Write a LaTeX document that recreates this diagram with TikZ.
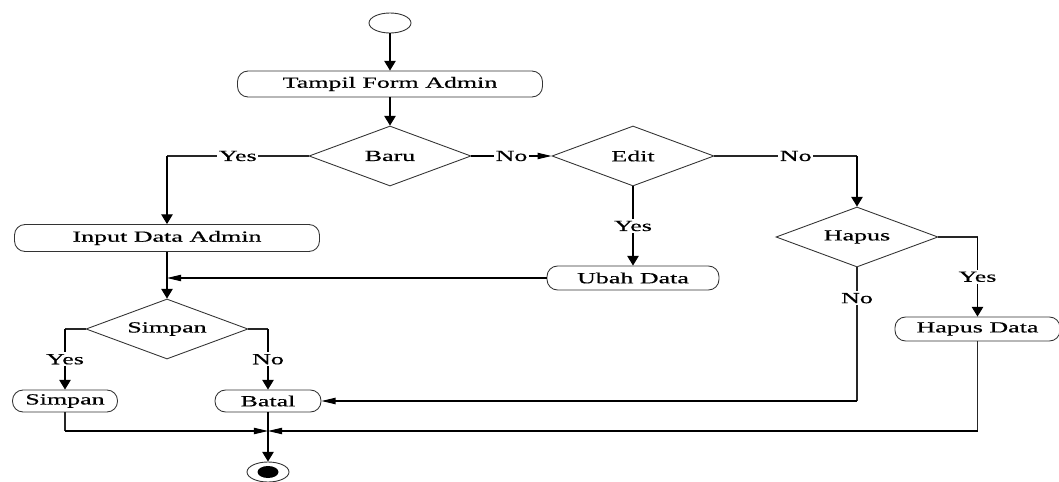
\documentclass[tikz,border=0pt]{standalone}
\usepackage{fontspec}
\setmainfont{Liberation Serif}[FakeStretch=1.68, FakeBold=0.4]
\usetikzlibrary{shapes.geometric,arrows.meta}

\tikzset{
  box/.style={draw=black!80, line width=0.5pt, rounded corners=6pt, minimum width=#1, minimum height=0.52cm, inner sep=0pt},
  decision/.style={draw=black!80, line width=0.5pt, diamond, aspect=2.7, minimum width=3.24cm, minimum height=1.2cm, inner sep=0pt},
  varr/.style={line width=0.6pt, -{Triangle[length=5.5pt,width=6.5pt]}},
  harr/.style={line width=0.6pt, -{Triangle[length=8pt,width=3.6pt]}},
  line/.style={line width=0.6pt, draw=black!85},
  lbl/.style={fill=white, inner sep=1pt}
}

\begin{document}
\begin{tikzpicture}[font=\fontsize{8.8}{10}\selectfont]
\useasboundingbox (0,0) rectangle (21.18,-9.64);

% Start and first activity
  \node[ellipse, draw=black!80, line width=0.5pt, minimum width=0.84cm, minimum height=0.4cm] (start) at (7.8,-0.46) {};
  \node[box=6.1cm] (tampil) at (7.8,-1.68) {Tampil Form Admin};

  % Decisions
  \node[decision] (baru) at (7.8,-3.12) {Baru};
  \node[decision] (edit) at (12.66,-3.12) {Edit};
  \node[decision] (hapus) at (17.14,-4.74) {Hapus};
  \node[decision] (simpan) at (3.34,-6.58) {Simpan};

  % Activities
  \node[box=6.1cm, minimum height=0.54cm] (input) at (3.34,-4.76) {Input Data Admin};
  \node[box=3.44cm, minimum height=0.48cm] (ubah) at (12.66,-5.56) {Ubah Data};
  \node[box=3.3cm, minimum height=0.48cm] (hapusdata) at (19.55,-6.58) {Hapus Data};
  \node[box=2.1cm, minimum height=0.44cm] (simpanbox) at (1.3,-8.02) {Simpan};
  \node[box=2.12cm, minimum height=0.44cm] (batal) at (5.36,-8.02) {Batal};

  % End point
  \node[ellipse, draw=black!80, line width=0.5pt, minimum width=0.84cm, minimum height=0.4cm] (end) at (5.36,-9.44) {};
  \fill (end.center) ellipse (0.21 and 0.12);

  \coordinate (join) at (input |- ubah);
  \coordinate (merge) at (5.36,-8.62);

  % Connectors
  \draw[varr] (start) -- (tampil);
  \draw[varr] (tampil) -- (baru);
  \draw[line] (baru.west) -- node[lbl] {Yes} (input |- baru);
  \draw[varr] (input |- baru) -- (input.north);
  \draw[harr] (baru.east) -- node[lbl] {No} (edit.west);
  \draw[line] (edit.east) -- node[lbl, pos=0.57] {No} (hapus |- edit);
  \draw[varr] (hapus |- edit) -- (hapus.north);
  \draw[varr] (edit.south) -- node[lbl] {Yes} (ubah.north);
  \draw[harr] (ubah.west) -- (join);
  \draw[varr] (input.south) -- (simpan.north);

  \draw[line] (hapus.east) -- (hapusdata |- hapus);
  \draw[varr] (hapusdata |- hapus) -- node[lbl] {Yes} (hapusdata.north);
  \draw[line] (hapus.south) -- node[lbl, pos=0.23] {No} (hapus |- batal);
  \draw[harr] (hapus |- batal) -- (batal.east);

  \draw[line] (simpan.west) -- (simpanbox |- simpan);
  \draw[varr] (simpanbox |- simpan) -- node[lbl] {Yes} (simpanbox.north);
  \draw[line] (simpan.east) -- (batal |- simpan);
  \draw[varr] (batal |- simpan) -- node[lbl] {No} (batal.north);

  \draw[line] (simpanbox.south) -- (simpanbox |- merge);
  \draw[harr] (simpanbox |- merge) -- (merge);
  \draw[line] (hapusdata.south) -- (hapusdata |- merge);
  \draw[harr] (hapusdata |- merge) -- (merge);
  \draw[varr] (batal.south) -- (end.north);

\end{tikzpicture}
\end{document}
